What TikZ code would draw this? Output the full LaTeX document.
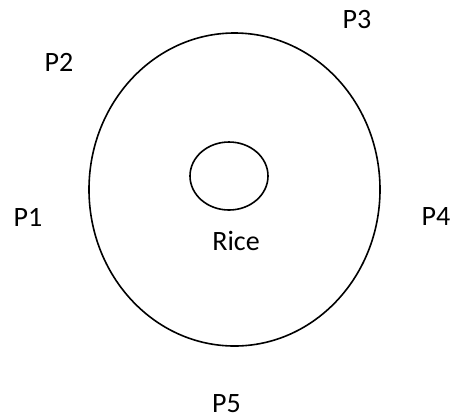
\documentclass[tikz,border=0pt]{standalone}
\usepackage{fontspec}
\setmainfont{Carlito}
\begin{document}
\begin{tikzpicture}[x=1bp,y=-1bp,
  ring/.style={draw=black,line width=1.6bp},
  lbl/.style={inner sep=0pt,anchor=base,text depth=0pt,font=\fontsize{28bp}{32bp}\selectfont}]
\useasboundingbox (0,0) rectangle (452,416);
\draw[ring] (234.5,189.5) ellipse [x radius=145.5, y radius=156.5];
\draw[ring] (229,176) ellipse [x radius=39, y radius=34];
\node[lbl] (p1) at (28,226) {P1};
\node[lbl] (p2) at (59,71) {P2};
\node[lbl] (p3) at (357,28) {P3};
\node[lbl] (p4) at (436,225) {P4};
\node[lbl] (rice) at (236,250) {Rice};
\node[lbl] (p5) at (226.5,412) {P5};
\end{tikzpicture}
\end{document}
